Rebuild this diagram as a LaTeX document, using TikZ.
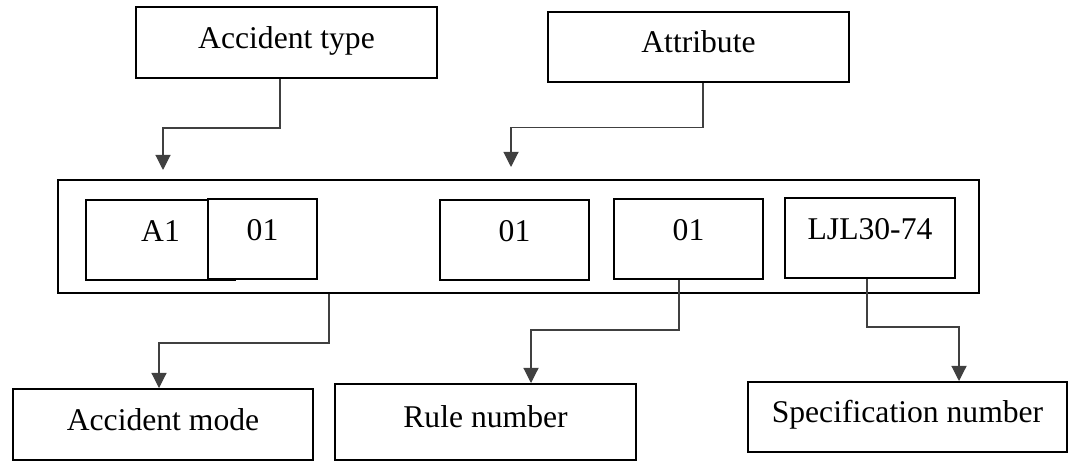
\documentclass[tikz,border=0pt]{standalone}
\usepackage{fontspec}
\setmainfont{Liberation Serif}
\usetikzlibrary{arrows.meta}
\begin{document}
\begin{tikzpicture}[font=\fontsize{22.5}{27}\selectfont,
  box/.style={draw, line width=1.4pt, fill=white, inner sep=0pt, text height=14.85pt, text depth=6.4pt},
  field/.style={box, minimum height=2cm, text depth=12.8pt},
  link/.style={draw=black!75, line width=0.8pt, -{Triangle[length=0.38cm,width=0.38cm]}}]
\useasboundingbox (0,0) rectangle (26.7,11.525);
\node[box, minimum width=7.525cm, minimum height=1.775cm] (acctype) at (7.1625,10.4625) {Accident type};
\node[box, minimum width=7.525cm, minimum height=1.75cm] (attr) at (17.4625,10.35) {Attribute};
\node[draw, line width=1.4pt, minimum width=23.025cm, minimum height=2.825cm] (code) at (12.9625,5.6125) {};
\node[field, minimum width=3.725cm] (a1) at (4.0125,5.525) {A1};
\node[field, minimum width=2.725cm] (typeno) at (6.5625,5.55) {01};
\node[field, minimum width=3.725cm] (attrno) at (12.8625,5.525) {01};
\node[field, minimum width=3.725cm] (ruleno) at (17.2125,5.55) {01};
\node[field, minimum width=4.25cm] (specno) at (21.75,5.575) {LJL30-74};
\node[box, minimum width=7.5cm, minimum height=1.775cm] (mode) at (4.075,0.9125) {Accident mode};
\node[box, minimum width=7.525cm, minimum height=1.9cm] (rule) at (12.1375,0.975) {Rule number};
\node[box, minimum width=7.975cm, minimum height=1.75cm] (spec) at (22.6875,1.1) {Specification number};
\coordinate (typetip) at (4.075,7.275);
\coordinate (attrtip) at (12.775,7.35);
\draw[link] ([xshift=-0.1625cm]acctype.south) -- ++(0,-1.225) -| (typetip);
\draw[link] ([xshift=0.1125cm]attr.south) -- ++(0,-1.1125) -| (attrtip);
\draw[link] (8.225,0 |- code.south) -- ++(0,-1.225) -| ([xshift=-0.1cm]mode.north);
\draw[link] ([xshift=-0.2375cm]ruleno.south) -- ++(0,-1.25) -| ([xshift=1.1375cm]rule.north);
\draw[link] ([xshift=-0.075cm]specno.south) -- ++(0,-1.2) -| ([xshift=1.2875cm]spec.north);
\end{tikzpicture}
\end{document}
